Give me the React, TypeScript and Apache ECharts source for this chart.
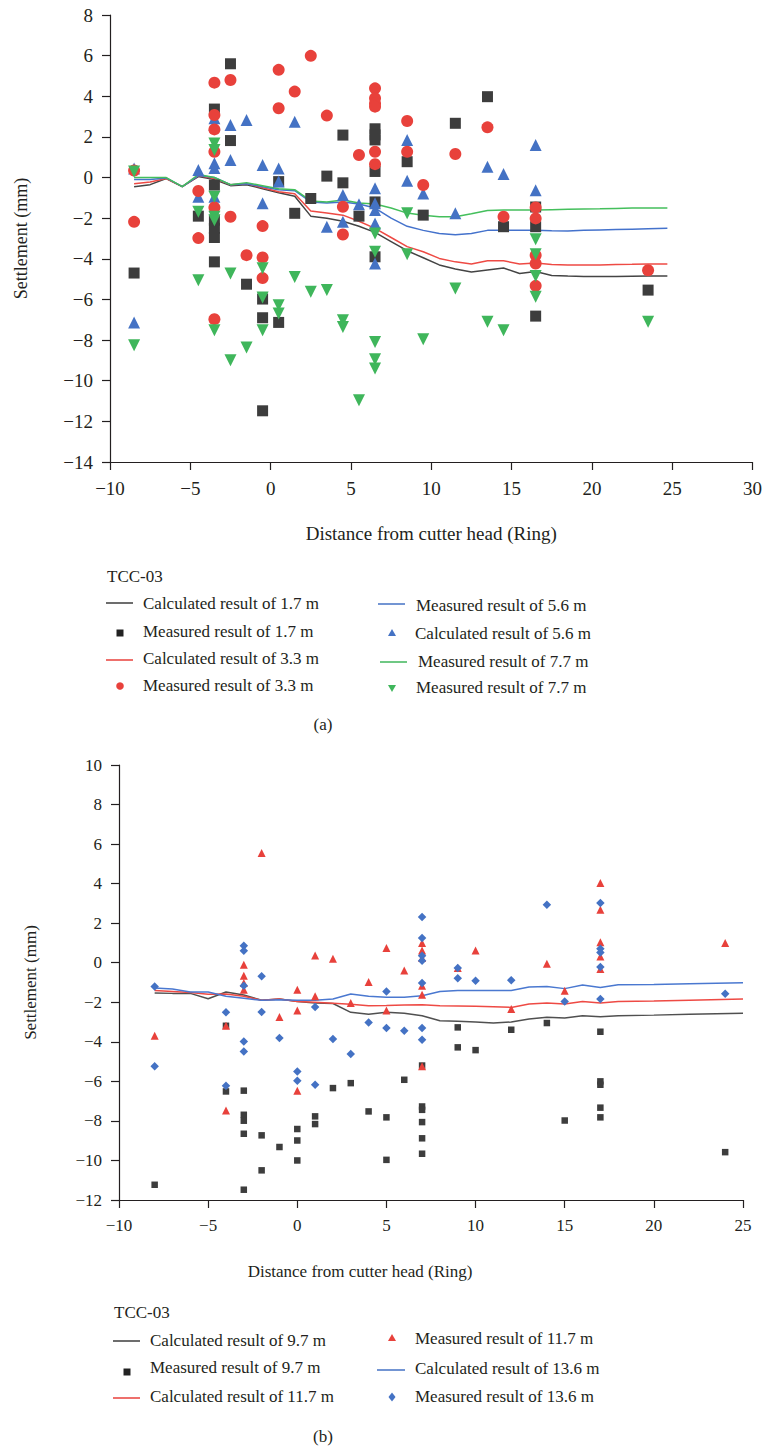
import React, { useEffect, useRef } from "react";
import * as echarts from "echarts";

// ---------- Panel (a) data ----------
const aLineX = [-8.5, -7.5, -6.5, -5.5, -4.5, -3.5, -2.5, -1.5, -0.5, 0.5, 1.5, 2.5, 3.5, 4.5, 5.5, 6.5, 7.5, 8.5, 9.5, 10.5, 11.5, 12.5, 13.5, 14.5, 15.5, 16.5, 17.5, 18.5, 19.5, 20.5, 21.5, 22.5, 23.5, 24.7];
const aCalc17 = [-0.45, -0.35, -0.05, -0.45, 0.05, -0.1, -0.4, -0.35, -0.55, -0.75, -0.92, -1.9, -2.0, -2.15, -2.4, -2.7, -3.15, -3.6, -3.95, -4.3, -4.5, -4.65, -4.55, -4.45, -4.72, -4.62, -4.82, -4.85, -4.87, -4.87, -4.87, -4.86, -4.85, -4.85];
const aCalc33 = [-0.3, -0.22, -0.05, -0.45, 0.1, -0.05, -0.35, -0.3, -0.5, -0.7, -0.8, -1.65, -1.75, -1.85, -2.15, -2.5, -2.95, -3.4, -3.65, -3.98, -4.15, -4.25, -4.1, -4.1, -4.25, -4.2, -4.28, -4.3, -4.3, -4.3, -4.28, -4.27, -4.25, -4.25];
const aLine56 = [-0.1, -0.1, -0.02, -0.45, 0.1, 0.0, -0.35, -0.3, -0.45, -0.6, -0.65, -1.2, -1.25, -1.2, -1.3, -1.5, -2.0, -2.4, -2.6, -2.75, -2.82, -2.75, -2.6, -2.6, -2.6, -2.6, -2.62, -2.63, -2.6, -2.58, -2.56, -2.54, -2.52, -2.5];
const aLine77 = [0.0, 0.0, 0.0, -0.45, 0.15, 0.0, -0.35, -0.25, -0.4, -0.55, -0.6, -1.15, -1.2, -1.1, -1.25, -1.3, -1.5, -1.75, -1.85, -1.93, -1.93, -1.78, -1.62, -1.6, -1.6, -1.6, -1.58, -1.56, -1.55, -1.54, -1.52, -1.5, -1.5, -1.5];

const aMeas17 = [
  [-8.5, -4.7], [-4.5, -1.9],
  [-3.5, 3.37], [-3.5, -0.37], [-3.5, -2.1], [-3.5, -2.5], [-3.5, -2.95], [-3.5, -4.15],
  [-2.5, 5.6], [-2.5, 1.82], [-1.5, -5.25],
  [-0.5, -5.98], [-0.5, -6.9], [-0.5, -11.48],
  [0.5, -0.2], [0.5, -7.13], [1.5, -1.76], [2.5, -1.03], [3.5, 0.07],
  [4.5, 2.09], [4.5, -0.26], [5.5, -1.9],
  [6.5, 2.4], [6.5, 2.1], [6.5, 1.85], [6.5, 0.3], [6.5, -1.2], [6.5, -3.9],
  [8.5, 0.78], [9.5, -1.85], [11.5, 2.67], [13.5, 3.98], [14.5, -2.42],
  [16.5, -1.45], [16.5, -2.42], [16.5, -6.82], [23.5, -5.54],
];
const aMeas33 = [
  [-8.5, 0.35], [-8.5, -2.18], [-4.5, -0.66], [-4.5, -2.98],
  [-3.5, 4.67], [-3.5, 3.08], [-3.5, 2.37], [-3.5, 1.27], [-3.5, -1.47], [-3.5, -6.97],
  [-2.5, 4.8], [-2.5, -1.93], [-1.5, -3.82],
  [-0.5, -2.39], [-0.5, -3.93], [-0.5, -4.95],
  [0.5, 5.3], [0.5, 3.41], [1.5, 4.23], [2.5, 5.99], [3.5, 3.05],
  [4.5, -1.44], [4.5, -2.8], [5.5, 1.11],
  [6.5, 4.39], [6.5, 3.9], [6.5, 3.65], [6.5, 3.49], [6.5, 1.27], [6.5, 0.66],
  [8.5, 2.78], [8.5, 1.27], [9.5, -0.37], [11.5, 1.16], [13.5, 2.47], [14.5, -1.93],
  [16.5, -1.47], [16.5, -2.01], [16.5, -3.82], [16.5, -4.23], [16.5, -5.33], [23.5, -4.56],
];
const aMeas56 = [
  [-8.5, 0.45], [-8.5, -7.13], [-4.5, 0.37], [-4.5, -0.95],
  [-3.5, 2.92], [-3.5, 2.59], [-3.5, 0.7], [-3.5, 0.47], [-3.5, -0.95],
  [-2.5, 2.59], [-2.5, 0.86], [-1.5, 2.83], [-0.5, 0.62], [-0.5, -1.27],
  [0.5, 0.45], [0.5, -0.2], [1.5, 2.75], [3.5, -2.42], [4.5, -0.86], [4.5, -2.18], [5.5, -1.31],
  [6.5, -0.53], [6.5, -1.27], [6.5, -1.6], [6.5, -2.26], [6.5, -4.23],
  [8.5, 1.85], [8.5, -0.16], [9.5, -0.78], [11.5, -1.76], [13.5, 0.53], [14.5, 0.17],
  [16.5, 1.6], [16.5, -0.62],
];
const aMeas77 = [
  [-8.5, 0.3], [-8.5, -8.25], [-4.5, -1.68], [-4.5, -5.05],
  [-3.5, 1.68], [-3.5, 1.35], [-3.5, -0.95], [-3.5, -1.93], [-3.5, -2.1], [-3.5, -7.51],
  [-2.5, -4.72], [-2.5, -8.99], [-1.5, -8.37],
  [-0.5, -4.46], [-0.5, -5.9], [-0.5, -7.51], [0.5, -6.28], [0.5, -6.69],
  [1.5, -4.89], [2.5, -5.62], [3.5, -5.54], [4.5, -7.02], [4.5, -7.35], [5.5, -10.96],
  [6.5, -2.75], [6.5, -3.65], [6.5, -8.09], [6.5, -8.94], [6.5, -9.4],
  [8.5, -1.76], [8.5, -3.77], [9.5, -7.96], [11.5, -5.46], [13.5, -7.1], [14.5, -7.51],
  [16.5, -3.04], [16.5, -3.77], [16.5, -4.85], [16.5, -5.87], [23.5, -7.1],
];

// ---------- Panel (b) data ----------
const bLineX = [-8, -7, -6, -5, -4, -3, -2, -1, 0, 1, 2, 3, 4, 5, 6, 7, 8, 9, 10, 11, 12, 13, 14, 15, 16, 17, 18, 20, 22, 25];
const bCalc97 = [-1.53, -1.55, -1.55, -1.82, -1.48, -1.63, -1.9, -1.83, -1.96, -2.04, -2.06, -2.51, -2.6, -2.51, -2.55, -2.68, -2.93, -2.96, -3.0, -3.05, -3.0, -2.85, -2.76, -2.8, -2.68, -2.73, -2.68, -2.65, -2.6, -2.55];
const bCalc117 = [-1.4, -1.45, -1.5, -1.6, -1.58, -1.7, -1.9, -1.83, -1.96, -2.0, -2.05, -2.1, -2.17, -2.16, -2.14, -2.12, -2.18, -2.19, -2.2, -2.23, -2.26, -2.09, -2.04, -2.09, -1.96, -2.04, -1.96, -1.94, -1.9, -1.84];
const bCalc136 = [-1.28, -1.33, -1.48, -1.48, -1.7, -1.8, -1.9, -1.87, -1.9, -1.9, -1.83, -1.58, -1.7, -1.74, -1.74, -1.67, -1.45, -1.4, -1.4, -1.4, -1.4, -1.23, -1.2, -1.31, -1.13, -1.25, -1.11, -1.1, -1.06, -1.01];

const bMeas97 = [
  [-8, -11.23], [-4, -3.19], [-4, -6.51],
  [-3, -6.47], [-3, -7.69], [-3, -7.99], [-3, -8.65], [-3, -11.48],
  [-2, -8.73], [-2, -10.5], [-1, -9.32], [0, -8.41], [0, -8.99], [0, -10.0],
  [1, -7.77], [1, -8.16], [2, -6.34], [3, -6.09], [4, -7.52], [5, -7.82], [5, -9.97], [6, -5.92],
  [7, -5.2], [7, -7.27], [7, -7.44], [7, -8.06], [7, -8.88], [7, -9.66],
  [9, -3.27], [9, -4.28], [10, -4.42], [12, -3.39], [14, -3.05], [15, -7.98],
  [17, -3.49], [17, -6.0], [17, -6.17], [17, -7.33], [17, -7.82], [24, -9.58],
];
const bMeas117 = [
  [-8, -3.69], [-4, -3.19], [-4, -7.47],
  [-3, -0.1], [-3, -0.66], [-3, -1.03], [-3, -1.37],
  [-2, 5.55], [-1, -2.75], [0, -1.37], [0, -2.41], [0, -6.47],
  [1, 0.37], [1, -1.7], [2, 0.2], [3, -2.04], [4, -0.98], [5, 0.74], [5, -2.41], [6, -0.39],
  [7, 1.0], [7, 0.62], [7, 0.24], [7, -1.16], [7, -1.62], [7, -5.24],
  [9, -0.27], [10, 0.62], [12, -2.34], [14, -0.05], [15, -1.42],
  [17, 4.03], [17, 2.68], [17, 1.03], [17, 0.32], [17, -0.32], [24, 1.0],
];
const bMeas136 = [
  [-8, -1.2], [-8, -5.24], [-4, -2.51], [-4, -6.22],
  [-3, 0.86], [-3, 0.61], [-3, -1.16], [-3, -3.98], [-3, -4.49],
  [-2, -0.69], [-2, -2.49], [-1, -3.81], [0, -5.5], [0, -5.97],
  [1, -2.24], [1, -6.17], [2, -3.86], [3, -4.62], [4, -3.02], [5, -1.45], [5, -3.3], [6, -3.44],
  [7, 2.31], [7, 1.25], [7, 0.35], [7, 0.1], [7, -1.03], [7, -3.3], [7, -3.89],
  [9, -0.27], [9, -0.78], [10, -0.91], [12, -0.88], [14, 2.93], [15, -1.96],
  [17, 3.02], [17, 0.71], [17, 0.52], [17, -0.22], [17, -1.84], [24, -1.57],
];

const legendA = [
  "Calculated result of 1.7 m", "Measured result of 1.7 m", "Calculated result of 3.3 m", "Measured result of 3.3 m",
  "Measured result of 5.6 m", "Calculated result of 5.6 m", "Measured result of 7.7 m", "Measured result of 7.7 m",
];
const legendB = [
  "Calculated result of 9.7 m", "Measured result of 9.7 m", "Calculated result of 11.7 m",
  "Measured result of 11.7 m", "Calculated result of 13.6 m", "Measured result of 13.6 m",
];

const FONT = "Liberation Serif, serif";
const TXT = "#231f20";
const C_BLACK = "#3d3d3d";
const C_RED = "#e8413b";
const C_BLUE = "#4472c4";
const C_GREEN = "#3fb65b";
const LEG = 17;

const zip = (xs: number[], ys: number[]) => xs.map((x, i) => [x, ys[i]]);
const minus = (v: number) => String(v).replace("-", "\u2212");

function legendText(x: number, y: number, text: string) {
  return { type: "text", x, y, style: { text, fill: TXT, fontSize: LEG, fontFamily: FONT, verticalAlign: "middle", align: "left" } };
}
function lineIcon(x1: number, x2: number, y: number, color: string) {
  return { type: "line", shape: { x1, y1: y, x2, y2: y }, style: { stroke: color, lineWidth: 1.5 } };
}
function squareIcon(cx: number, cy: number, color: string) {
  return { type: "rect", shape: { x: cx - 3.5, y: cy - 3.5, width: 7, height: 7 }, style: { fill: color } };
}
function circleIcon(cx: number, cy: number, color: string) {
  return { type: "circle", shape: { cx, cy, r: 3.8 }, style: { fill: color } };
}
function triIcon(cx: number, cy: number, color: string, down = false) {
  const s = down ? -1 : 1;
  return { type: "polygon", shape: { points: [[cx, cy - 4 * s], [cx - 4, cy + 3 * s], [cx + 4, cy + 3 * s]] }, style: { fill: color } };
}
function diamondIcon(cx: number, cy: number, color: string) {
  return { type: "polygon", shape: { points: [[cx, cy - 4.5], [cx + 3.5, cy], [cx, cy + 4.5], [cx - 3.5, cy]] }, style: { fill: color } };
}
function plainText(x: number, y: number, text: string, align = "left") {
  return { type: "text", x, y, style: { text, fill: TXT, fontSize: LEG, fontFamily: FONT, verticalAlign: "middle", align } };
}

export default function App() {
  const ref = useRef<HTMLDivElement>(null);
  useEffect(() => {
    if (!ref.current) return;
    const chart = echarts.init(ref.current, null, { renderer: "svg" });

    const axisCommon = {
      type: "value",
      axisLine: { show: true, onZero: false, lineStyle: { color: TXT, width: 1.2 } },
      axisTick: { show: true, length: 8, lineStyle: { color: TXT, width: 1.2 } },
      splitLine: { show: false },
      nameLocation: "middle",
    };

    const lineSeries = (name: string, xi: number, data: number[][], color: string) => ({
      type: "line", name, xAxisIndex: xi, yAxisIndex: xi, data, showSymbol: false, symbol: "none",
      lineStyle: { color, width: 1.5 }, z: 2, silent: true,
    });
    const scatterSeries = (name: string, xi: number, data: number[][], color: string, symbol: string, size: number, rotate = 0) => ({
      type: "scatter", name, xAxisIndex: xi, yAxisIndex: xi, data, symbol, symbolSize: size, symbolRotate: rotate,
      itemStyle: { color, opacity: 1 }, z: 3,
    });

    const graphics: any[] = [
      plainText(107, 576, "TCC-03"),
      lineIcon(106, 133, 603, C_BLACK), legendText(143, 603, legendA[0]),
      squareIcon(120, 633, "#222"), legendText(143, 631, legendA[1]),
      lineIcon(106, 133, 660, C_RED), legendText(143, 658, legendA[2]),
      circleIcon(120, 686, C_RED), legendText(143, 685, legendA[3]),
      lineIcon(378, 405, 604, C_BLUE), legendText(416, 605, legendA[4]),
      triIcon(392, 633, C_BLUE), legendText(415, 633, legendA[5]),
      lineIcon(380, 407, 662, C_GREEN), legendText(418, 661, legendA[6]),
      triIcon(392, 688, C_GREEN, true), legendText(416, 687, legendA[7]),
      plainText(323, 724, "(a)", "center"),

      plainText(114, 1312, "TCC-03"),
      lineIcon(113, 140, 1341, C_BLACK), legendText(150, 1340, legendB[0]),
      squareIcon(127, 1372, "#222"), legendText(150, 1367, legendB[1]),
      lineIcon(113, 140, 1398, C_RED), legendText(150, 1396, legendB[2]),
      triIcon(392, 1338, C_RED), legendText(415, 1338, legendB[3]),
      lineIcon(377, 405, 1370, C_BLUE), legendText(415, 1368, legendB[4]),
      diamondIcon(392, 1397, C_BLUE), legendText(415, 1396, legendB[5]),
      plainText(323, 1436, "(b)", "center"),
    ];

    chart.setOption({
      animation: false,
      backgroundColor: "#ffffff",
      textStyle: { fontFamily: FONT },
      grid: [
        { left: 110, top: 15, width: 643, height: 447 },
        { left: 119, top: 765, width: 624, height: 435 },
      ],
      xAxis: [
        {
          ...axisCommon, gridIndex: 0, min: -10, max: 30, interval: 5,
          axisLabel: { fontSize: 19, fontFamily: FONT, color: TXT, margin: 17, formatter: minus },
          name: "Distance from cutter head (Ring)", nameGap: 62,
          nameTextStyle: { fontSize: 19, fontFamily: FONT, color: TXT },
        },
        {
          ...axisCommon, gridIndex: 1, min: -10, max: 25, interval: 5,
          axisLabel: { fontSize: 17, fontFamily: FONT, color: TXT, margin: 17, formatter: minus },
          name: "Distance from cutter head (Ring)", nameGap: 63,
          nameTextStyle: { fontSize: 17, fontFamily: FONT, color: TXT, padding: [0, 142, 0, 0] },
        },
      ],
      yAxis: [
        {
          ...axisCommon, gridIndex: 0, min: -14, max: 8, interval: 2,
          axisLabel: { fontSize: 19, fontFamily: FONT, color: TXT, margin: 17, formatter: minus },
          name: "Settlement (mm)", nameGap: 80, nameRotate: 90,
          nameTextStyle: { fontSize: 18, fontFamily: FONT, color: TXT },
        },
        {
          ...axisCommon, gridIndex: 1, min: -12, max: 10, interval: 2,
          axisLabel: { fontSize: 17, fontFamily: FONT, color: TXT, margin: 17, formatter: minus },
          name: "Settlement (mm)", nameGap: 80, nameRotate: 90,
          nameTextStyle: { fontSize: 17, fontFamily: FONT, color: TXT },
        },
      ],
      series: [
        lineSeries(legendA[0], 0, zip(aLineX, aCalc17), "#444444"),
        lineSeries(legendA[2], 0, zip(aLineX, aCalc33), "#ee4a44"),
        lineSeries(legendA[4], 0, zip(aLineX, aLine56), "#4472cc"),
        lineSeries("Measured result of 7.7 m (line)", 0, zip(aLineX, aLine77), "#44bf5c"),
        scatterSeries(legendA[1], 0, aMeas17, C_BLACK, "rect", 11),
        scatterSeries(legendA[5], 0, aMeas56, C_BLUE, "triangle", 12),
        scatterSeries(legendA[3], 0, aMeas33, C_RED, "circle", 12),
        scatterSeries(legendA[7], 0, aMeas77, C_GREEN, "triangle", 12, 180),

        lineSeries(legendB[0], 1, zip(bLineX, bCalc97), "#505050"),
        lineSeries(legendB[2], 1, zip(bLineX, bCalc117), "#ee4a44"),
        lineSeries(legendB[4], 1, zip(bLineX, bCalc136), "#4a78d0"),
        scatterSeries(legendB[1], 1, bMeas97, C_BLACK, "rect", 6.5),
        scatterSeries(legendB[3], 1, bMeas117, C_RED, "triangle", 8),
        scatterSeries(legendB[5], 1, bMeas136, C_BLUE, "diamond", 8.5),
      ],
      graphic: graphics,
    });
    return () => chart.dispose();
  }, []);

  return <div ref={ref} style={{ position: "absolute", left: 0, top: 0, width: 765, height: 1450 }} />;
}
